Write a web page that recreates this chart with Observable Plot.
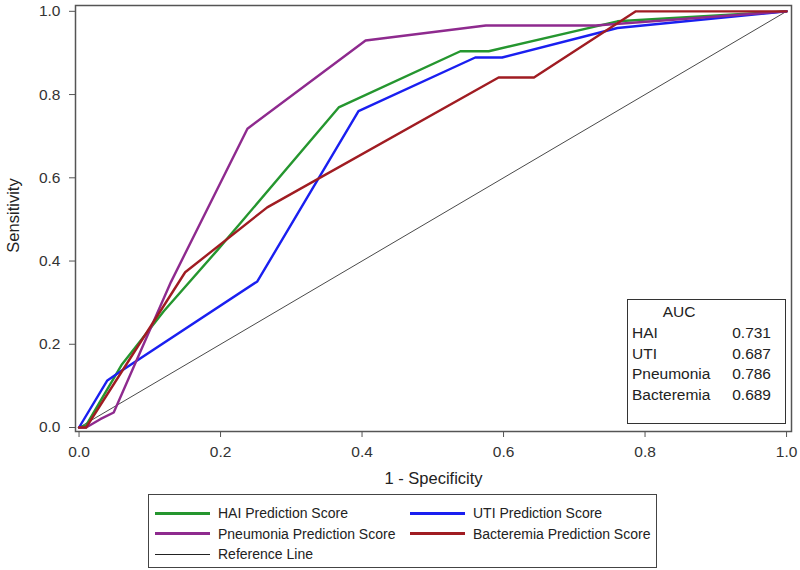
<!DOCTYPE html>
<html>
<head>
<meta charset="utf-8">
<script src="https://cdn.jsdelivr.net/npm/d3@7"></script>
<script src="https://cdn.jsdelivr.net/npm/@observablehq/plot@0.6"></script>
<style>
  body { margin: 0; background: #fff; font-family: "Liberation Sans", Arial, sans-serif; }
  #wrap { position: relative; width: 800px; height: 570px; }
  #legend { position: absolute; left: 148px; top: 494px; width: 509px; height: 74px; box-sizing: border-box; border: 1.2px solid #444; }
  .li { position: absolute; display: flex; align-items: center; font-size: 14px; color: #222; height: 20px; }
  .sw { width: 55px; margin-right: 8px; }
  #auc { position: absolute; left: 627px; top: 299px; width: 159px; height: 125px; box-sizing: border-box; border: 1.4px solid #333; font-size: 15.5px; color: #222; }
  .ar { position: absolute; left: 4px; right: 14px; height: 20px; line-height: 20px; display: flex; justify-content: space-between; }
</style>
</head>
<body>
<div id="wrap"></div>
<script>
// ---- data ----
const seriesNames = ["HAI Prediction Score", "UTI Prediction Score", "Pneumonia Prediction Score", "Bacteremia Prediction Score"];
const seriesColors = ["#25962f", "#1a1ff0", "#8e2a8e", "#a01c22"];

const haiX = [0, 0.01, 0.06, 0.12, 0.195, 0.367, 0.539, 0.579, 0.761, 1.0];
const haiY = [0, 0.005, 0.15, 0.28, 0.425, 0.769, 0.904, 0.904, 0.976, 1.0];

const utiX = [0, 0.04, 0.059, 0.252, 0.395, 0.56, 0.598, 0.761, 1.0];
const utiY = [0, 0.113, 0.135, 0.351, 0.76, 0.889, 0.889, 0.96, 1.0];

const pneuX = [0, 0.01, 0.03, 0.049, 0.13, 0.238, 0.405, 0.575, 0.73, 1.0];
const pneuY = [0, 0.0, 0.02, 0.036, 0.35, 0.718, 0.93, 0.966, 0.966, 1.0];

const bactX = [0, 0.01, 0.15, 0.266, 0.593, 0.643, 0.787, 1.0];
const bactY = [0, 0.0, 0.373, 0.529, 0.841, 0.841, 1.0, 1.0];

const refX = [0, 1];
const refY = [0, 1];

const xTicks = [0, 0.2, 0.4, 0.6, 0.8, 1.0];
const yTicks = [0, 0.2, 0.4, 0.6, 0.8, 1.0];

const aucLabels = ["HAI", "UTI", "Pneumonia", "Bacteremia"];
const aucValues = ["0.731", "0.687", "0.786", "0.689"];

// ---- build tables ----
const seriesXY = [[haiX, haiY], [utiX, utiY], [pneuX, pneuY], [bactX, bactY]];
const curves = seriesXY.flatMap(([xs, ys], i) => xs.map((x, j) => ({series: seriesNames[i], x, y: ys[j]})));
const ref = refX.map((x, j) => ({x, y: refY[j]}));

const chart = Plot.plot({
  width: 800,
  height: 488,
  marginLeft: 75,
  marginRight: 9,
  marginTop: 5,
  marginBottom: 57,
  style: {fontFamily: "Liberation Sans, Arial, sans-serif", background: "#fff"},
  x: {domain: [-0.005, 1.007]},
  y: {domain: [-0.0096, 1.014]},
  color: {domain: seriesNames, range: seriesColors},
  marks: [
    Plot.line(ref, {x: "x", y: "y", stroke: "#4a4a4a", strokeWidth: 1}),
    Plot.line(curves, {x: "x", y: "y", z: "series", stroke: "series", strokeWidth: 2.4, strokeLinejoin: "round"}),
    Plot.frame({stroke: "#555", strokeWidth: 1.5}),
    Plot.axisX({ticks: xTicks, tickFormat: ".1f", tickSize: 6, tickPadding: 8, fontSize: 15.5, stroke: "#555", color: "#333", label: null}),
    Plot.axisY({ticks: yTicks, tickFormat: ".1f", tickSize: 6, tickPadding: 9, fontSize: 15.5, stroke: "#555", color: "#333", label: null}),
    Plot.text(["1 - Specificity"], {frameAnchor: "bottom", dy: 47, text: d => d, fontSize: 16.5, fill: "#222", lineAnchor: "middle", textAnchor: "middle"}),
    Plot.text(["Sensitivity"], {frameAnchor: "left", dx: -62, dy: -3, rotate: -90, text: d => d, fontSize: 16.5, fill: "#222", lineAnchor: "middle", textAnchor: "middle"})
  ]
});

const wrap = document.getElementById("wrap");
wrap.appendChild(chart);

// ---- AUC inset ----
const auc = document.createElement("div");
auc.id = "auc";
let aucHtml = `<div style="position:absolute;left:0;width:102px;text-align:center;top:2px;height:20px;line-height:20px;">AUC</div>`;
aucLabels.forEach((l, i) => {
  aucHtml += `<div class="ar" style="top:${23 + i * 20.7}px"><span>${l}</span><span>${aucValues[i]}</span></div>`;
});
auc.innerHTML = aucHtml;
wrap.appendChild(auc);

// ---- legend ----
const legend = document.createElement("div");
legend.id = "legend";
const items = seriesNames.map((n, i) => ({name: n, color: seriesColors[i], w: 3}));
items.push({name: "Reference Line", color: "#222", w: 1});
let lh = "";
items.forEach((it, i) => {
  const col = i % 2, row = Math.floor(i / 2);
  const left = col === 0 ? 6 : 261;
  const top = 8 + row * 20.5;
  lh += `<div class="li" style="left:${left}px;top:${top}px"><div class="sw" style="height:${it.w}px;background:${it.color}"></div><span>${it.name}</span></div>`;
});
legend.innerHTML = lh;
wrap.appendChild(legend);
</script>
</body>
</html>
